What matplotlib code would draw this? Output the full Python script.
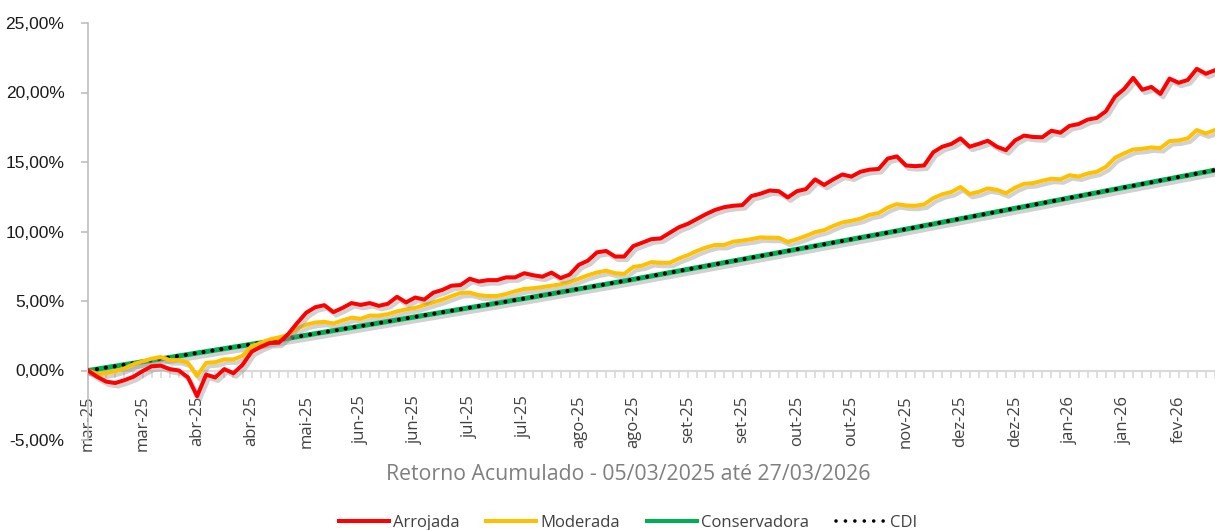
import matplotlib
matplotlib.use("Agg")
import matplotlib.pyplot as plt
import matplotlib.patheffects as pe
from matplotlib.lines import Line2D
from matplotlib.ticker import FixedLocator, FuncFormatter

# accumulated return (%), one value per sampled date
arrojada = [
    0.00, -0.45, -0.80, -0.90, -0.70, -0.45, -0.05, 0.30, 0.35, 0.10,
    0.00, -0.50, -1.85, -0.30, -0.50, 0.10, -0.20, 0.40, 1.35, 1.70,
    1.98, 2.00, 2.60, 3.40, 4.15, 4.55, 4.70, 4.20, 4.50, 4.85,
    4.72, 4.85, 4.65, 4.80, 5.30, 4.90, 5.25, 5.10, 5.60, 5.80,
    6.10, 6.15, 6.60, 6.40, 6.50, 6.50, 6.70, 6.70, 7.00, 6.85,
    6.75, 7.04, 6.65, 6.90, 7.60, 7.90, 8.50, 8.60, 8.20, 8.20,
    8.95, 9.20, 9.45, 9.50, 9.90, 10.30, 10.55, 10.90, 11.25, 11.55,
    11.75, 11.85, 11.90, 12.55, 12.72, 12.95, 12.90, 12.45, 12.90, 13.05,
    13.75, 13.35, 13.75, 14.10, 13.95, 14.30, 14.45, 14.50, 15.25, 15.40,
    14.75, 14.70, 14.75, 15.70, 16.10, 16.30, 16.70, 16.10, 16.30, 16.53,
    16.10, 15.85, 16.55, 16.90, 16.80, 16.78, 17.25, 17.11, 17.60, 17.73,
    18.05, 18.17, 18.65, 19.70, 20.25, 21.05, 20.20, 20.40, 19.90, 21.00,
    20.70, 20.90, 21.70, 21.35, 21.60,
]
moderada = [
    0.00, -0.25, -0.20, -0.05, 0.15, 0.45, 0.65, 0.85, 0.97, 0.75,
    0.75, 0.55, -0.40, 0.55, 0.60, 0.80, 0.80, 1.05, 1.75, 1.97,
    2.24, 2.38, 2.55, 3.00, 3.30, 3.45, 3.50, 3.38, 3.60, 3.80,
    3.72, 3.95, 3.95, 4.05, 4.25, 4.40, 4.50, 4.70, 4.90, 5.10,
    5.35, 5.58, 5.60, 5.42, 5.36, 5.36, 5.50, 5.70, 5.87, 5.92,
    6.00, 6.10, 6.20, 6.35, 6.60, 6.85, 7.05, 7.18, 7.00, 6.95,
    7.45, 7.55, 7.80, 7.75, 7.75, 8.05, 8.30, 8.60, 8.85, 9.03,
    9.03, 9.27, 9.35, 9.45, 9.58, 9.55, 9.55, 9.25, 9.45, 9.68,
    9.95, 10.10, 10.40, 10.65, 10.77, 10.92, 11.20, 11.33, 11.72, 11.97,
    11.87, 11.85, 11.95, 12.40, 12.68, 12.84, 13.20, 12.70, 12.85, 13.10,
    13.00, 12.75, 13.15, 13.43, 13.48, 13.65, 13.80, 13.75, 14.05, 13.95,
    14.17, 14.30, 14.65, 15.30, 15.62, 15.90, 15.95, 16.05, 16.00, 16.50,
    16.55, 16.70, 17.30, 17.05, 17.30,
]
conservadora = [
    0.00, 0.10, 0.21, 0.31, 0.42, 0.52, 0.63, 0.73, 0.84, 0.94,
    1.05, 1.15, 1.26, 1.36, 1.47, 1.57, 1.68, 1.78, 1.89, 1.99,
    2.10, 2.21, 2.32, 2.43, 2.54, 2.65, 2.76, 2.87, 2.98, 3.09,
    3.20, 3.31, 3.42, 3.53, 3.64, 3.75, 3.86, 3.97, 4.08, 4.19,
    4.30, 4.41, 4.52, 4.63, 4.74, 4.85, 4.96, 5.07, 5.18, 5.29,
    5.41, 5.52, 5.64, 5.75, 5.87, 5.98, 6.10, 6.21, 6.33, 6.44,
    6.56, 6.68, 6.80, 6.92, 7.04, 7.16, 7.28, 7.40, 7.52, 7.64,
    7.76, 7.88, 8.00, 8.12, 8.24, 8.36, 8.48, 8.60, 8.72, 8.84,
    8.96, 9.08, 9.20, 9.32, 9.44, 9.56, 9.68, 9.80, 9.92, 10.04,
    10.17, 10.29, 10.42, 10.54, 10.67, 10.79, 10.92, 11.04, 11.17, 11.29,
    11.42, 11.54, 11.67, 11.79, 11.92, 12.04, 12.17, 12.29, 12.42, 12.54,
    12.67, 12.79, 12.92, 13.04, 13.17, 13.29, 13.42, 13.54, 13.67, 13.79,
    13.92, 14.04, 14.17, 14.29, 14.42,
]
cdi = [
    0.00, 0.10, 0.21, 0.31, 0.42, 0.52, 0.63, 0.73, 0.84, 0.94,
    1.05, 1.15, 1.26, 1.36, 1.47, 1.57, 1.68, 1.78, 1.89, 1.99,
    2.10, 2.21, 2.32, 2.43, 2.54, 2.65, 2.76, 2.87, 2.98, 3.09,
    3.20, 3.31, 3.42, 3.53, 3.64, 3.75, 3.86, 3.97, 4.08, 4.19,
    4.30, 4.41, 4.52, 4.63, 4.74, 4.85, 4.96, 5.07, 5.18, 5.29,
    5.41, 5.52, 5.64, 5.75, 5.87, 5.98, 6.10, 6.21, 6.33, 6.44,
    6.56, 6.68, 6.80, 6.92, 7.04, 7.16, 7.28, 7.40, 7.52, 7.64,
    7.76, 7.88, 8.00, 8.12, 8.24, 8.36, 8.48, 8.60, 8.72, 8.84,
    8.96, 9.08, 9.20, 9.32, 9.44, 9.56, 9.68, 9.80, 9.92, 10.04,
    10.17, 10.29, 10.42, 10.54, 10.67, 10.79, 10.92, 11.04, 11.17, 11.29,
    11.42, 11.54, 11.67, 11.79, 11.92, 12.04, 12.17, 12.29, 12.42, 12.54,
    12.67, 12.79, 12.92, 13.04, 13.17, 13.29, 13.42, 13.54, 13.67, 13.79,
    13.92, 14.04, 14.17, 14.29, 14.42,
]
month_labels = [
    "mar-25", "mar-25", "abr-25", "abr-25", "mai-25", "jun-25", "jun-25",
    "jul-25", "jul-25", "ago-25", "ago-25", "set-25", "set-25", "out-25",
    "out-25", "nov-25", "dez-25", "dez-25", "jan-26", "jan-26", "fev-26",
]
label_step = 6

plt.rcParams["font.family"] = ["Open Sans", "DejaVu Sans"]

fig = plt.figure(figsize=(12.15, 5.3), dpi=100)
ax = fig.add_axes([88 / 1215, 1 - 440 / 530, 1 - 88 / 1215, (440 - 23) / 530])

x = list(range(len(arrojada)))
shadow = [pe.SimpleLineShadow(offset=(2, -2.5), shadow_color="#8c8c8c", alpha=0.4), pe.Normal()]

ax.plot(x, conservadora, color="#00B050", lw=3.6,
        path_effects=shadow, solid_capstyle="round", zorder=3)
ax.plot(x, cdi, color="black", lw=3.0, linestyle=(0, (0.01, 2.15)),
        dash_capstyle="round", zorder=4)
ax.plot(x, moderada, color="#FFC000", lw=2.9,
        path_effects=shadow, solid_joinstyle="round", zorder=5)
ax.plot(x, arrojada, color="#FF0000", lw=2.9,
        path_effects=shadow, solid_joinstyle="round", zorder=6)

ax.set_xlim(0, len(x) - 1)
ax.set_ylim(-5, 25)

for s in ["top", "right"]:
    ax.spines[s].set_visible(False)
ax.spines["left"].set_color("#bfbfbf")
ax.spines["left"].set_linewidth(1.2)
ax.spines["bottom"].set_position(("data", 0))
ax.spines["bottom"].set_color("#d9d9d9")
ax.spines["bottom"].set_linewidth(1.5)

major = list(range(0, label_step * len(month_labels), label_step))
ax.xaxis.set_major_locator(FixedLocator(major))
ax.xaxis.set_minor_locator(FixedLocator(x))
ax.set_xticklabels(month_labels, rotation=90, va="top", ha="center",
                   fontsize=12, color="#404040")
ax.tick_params(axis="x", which="both", length=5, width=1.2, color="#d9d9d9", pad=13)

ax.set_yticks([-5, 0, 5, 10, 15, 20, 25])
ax.yaxis.set_major_formatter(FuncFormatter(lambda v, p: f"{v:.2f}%".replace(".", ",")))
ax.tick_params(axis="y", length=5, width=1.2, color="#bfbfbf", pad=12)
for t in ax.get_yticklabels():
    t.set_fontfamily(["Liberation Sans", "DejaVu Sans"])
    t.set_fontsize(12.5)
    t.set_color("#1a1a1a")

fig.text(628 / 1215, 1 - 475 / 530, "Retorno Acumulado - 05/03/2025 até 27/03/2026",
         ha="center", va="center", fontsize=15.3, color="#7f7f7f")

handles = [
    Line2D([], [], color="#FF0000", lw=2.9),
    Line2D([], [], color="#FFC000", lw=2.9),
    Line2D([], [], color="#00B050", lw=2.9),
    Line2D([], [], color="black", lw=2.6, linestyle=(0, (0.01, 2.6)), dash_capstyle="round"),
]
names = ["Arrojada", "Moderada", "Conservadora", "CDI"]
fig.legend(handles, names, loc="center",
           bbox_to_anchor=(628 / 1215, 1 - 523 / 530), ncol=4, frameon=False,
           fontsize=12, handlelength=3.0, handletextpad=0.25, columnspacing=1.6,
           labelcolor="#404040")

fig.savefig("out.png", dpi=100)
